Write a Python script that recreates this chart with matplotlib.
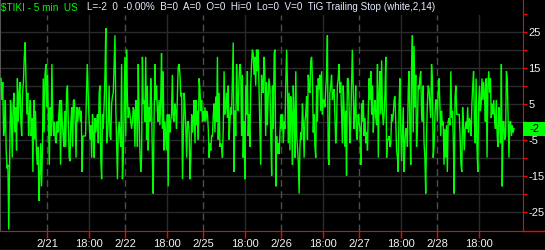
import numpy as np
import matplotlib.pyplot as plt
from matplotlib.lines import Line2D
from matplotlib.patches import Rectangle
from matplotlib.transforms import blended_transform_factory

plt.rcParams["font.family"] = ["Liberation Sans", "DejaVu Sans"]

# $TIKI 5 min closes, in six stretches of bars
tiki_a = [12, 6, 11, -4, -2, 6, -8, -13, -12, -30, -12, 6, 2, -10, 4, 8, -3, 4, -8, 12,
          0, 8, 11, 0, -4, 8, 11, 18, 22, 11, 2, 8, -4, 2, 6, -4, 1, -14, 6, -5,
          3, -8, -12, -7, -22, -15, -6, -18, -8, 12, -3, 13, 16, 4, 13, 0, -12, 4, -4, 16,
          1, -4, 0, -5, -6, 0, -3, 2, 6, -12, 6, 0, -4, -7, 3, -7, 8, 10, 0, -10,
          -11, 0, 4, -7, 6, 6, 0, -10, 4, 0, 3, 4, 0, 3, -14, -4, -4, -4, -4, 7, 16, 8, 1]
tiki_b = [-5, -1, -10, 2, -3, -10, 1, -3, 0, 2, -6, 8, 10, -11, -16, 2, -2, 5, 13, 26,
          -6, -4, 0, 10, -4, -5, 5, 7, 8, 16, 24, 4, -6, -16, -3, 0, -4, -7, 16, -16,
          -11, 4, 18, -4, 20, 6, 1, 4, 2, 0, -2, 0, 4, 3, -7, 6, 5, -7, 16, 2,
          -8, -14, -10, 18, 5, 6, 0, 18, -5, 10, -8, 4, 0, 12, 5, -10, -20, 0, 16, 6,
          10, 3, 0, 6, -1, 6, 19, -2, 14, -8, 0, -4, -8, 2, -18, 2, -3, 0, 2, 13,
          1, 0, 5, 3, -2, 6, 15, 16]
tiki_c = [13, 7, 8, -16, -4, 8, 4, -2, -10, 0, 0, -3, -16, -10, 2, -3, 0, 6, -6, 6,
          -1, 3, -5, 12, 9, 3, 6, 0, 3, 0, 4, 0, 3, 2, -2, -10, -6, -8, -4, -4,
          2, 5, -3, 7, 0, 18, -5, 8, -7, -6, -7, -10, -2, 14, 2, 4, 8, 1, 10, -5,
          0, 4, 2, 12, 22, -14, 3, -4, 16, 6, 3, 12, 16, 14, -4, 13, -10, 0, -16, 10,
          2, 14, -4, 2, -7, 10, 16, 20, 19, 13, 18, 10, 20, 14, 20, 9, -2, -12, 13, 10,
          8, 18, 14, -4, 11, -1, 7, 12]
tiki_d = [9, -5, -15, 10, -2, 19, 20, -18, -4, -9, -6, -9, -3, 2, -2, 2, -6, 0, -2, 11,
          20, 10, -6, 8, -8, 7, 2, -12, 10, 2, -10, 14, -4, -7, -11, -20, -7, -3, -5, 5,
          0, -10, 0, 2, 7, -5, 13, 9, 8, 17, 18, 12, -3, 2, -7, -10, 10, 0, 12, 9,
          13, 3, 14, 2, 6, 6, 4, 9, 13, 24, -10, -12, 8, 10, 13, 6, 8, 9, 2, -6,
          -1, 10, 12, 16, 8, 11, 3, -6, 10, 4, -7, 3, -15, 12, 12, 5, -6, -1, 9, 20,
          10, -2, 2, 10, -4, -5, 2, 0]
tiki_e = [-2, -12, 5, 0, 6, -4, 1, -6, -3, -8, 3, 12, 6, 14, 2, 10, -3, 3, 6, 1,
          -1, 16, -10, 8, 14, 2, 17, 3, -1, 2, 8, 18, -10, -5, -5, -4, -7, -6, 2, 0,
          2, 6, 7, 0, -8, -10, -14, 5, 12, -2, -11, -3, 4, -14, -6, -2, -2, -7, 9, 14,
          -2, -12, 15, 24, -3, 21, 4, 13, -7, -2, 10, 9, 12, 14, 2, 0, 10, -6, -10, -20,
          -4, 5, 10, 9, 5, 1, 16, 12, -10, -7, 1, 6, 6, 0, 8, 12, 5, -4, 3, -1,
          0, -12, -2, -10, -1, -14, 0, 1]
tiki_f = [-1, 14, 1, 3, -6, -20, 7, 10, 2, 2, 2, 2, -4, -12, -14, 4, -1, -8, -2, 0,
          -2, 4, -3, 1, 0, -4, 5, 10, 14, 0, -6, 12, -7, -14, 5, 10, 3, 5, 12, 6,
          11, 7, 0, 12, -10, 10, 14, 8, 12, 1, 5, 2, 6, 0, -2, 6, -4, -7, 4, 0,
          -6, 16, -18, 0, 0, -5, -4, 14, 12, 1, -10, 0, 0, -4, -1, -3, -2]

# bar range (first, last) covered by each stretch
stretch_bars = [(1, 89), (90, 179), (180, 269), (270, 359), (360, 449), (450, 514)]
stretches = [tiki_a, tiki_b, tiki_c, tiki_d, tiki_e, tiki_f]

day_labels = ["2/21", "2/22", "2/25", "2/26", "2/27", "2/28"]
evening_label = "18:00"
first_session_bar = 47
bars_per_session = 78
evening_offset = 42   # 18:00 is 42 five-minute bars after the 14:30 open

header_green = "$TIKI - 5 min  US"
header_rest = "L=-2  0  -0.00%  B=0  A=0  O=0  Hi=0  Lo=0  V=0  TiG Trailing Stop (white,2,14)"

GREEN = "#00ff00"
RED = "#ff0000"

W, H = 545, 250
fig = plt.figure(figsize=(W / 100, H / 100), dpi=100, facecolor="black")
ax = fig.add_axes([0, 19 / H, 523 / W, 231 / H])
ax.set_facecolor("black")
ax.set_xlim(0, 523)
ax.set_ylim(-30.4, 33.8)

xs, ys = [], []
for (b0, b1), vals in zip(stretch_bars, stretches):
    xs.extend(np.linspace(b0, b1, len(vals)))
    ys.extend(vals)
xs = np.array(xs)
ys = np.array(ys)

# grid, kept below the header strip
grid_top = (231 - 15) / 231
for y in range(-25, 30, 5):
    ax.axhline(y, color="#2a2a2a", lw=1, zorder=1)
day_pos = [first_session_bar + i * bars_per_session for i in range(len(day_labels))]
eve_pos = [d + evening_offset for d in day_pos]
for d in day_pos:
    ax.axvline(d, ymax=grid_top, color="#4d4d4d", lw=1, ls=(0, (5, 3)), zorder=1)
for e in eve_pos:
    ax.axvline(e, ymax=grid_top, color="#2a2a2a", lw=1, zorder=1)

ax.plot(xs, ys, color=GREEN, lw=1.0, zorder=3, solid_joinstyle="miter")

# axes styling
ax.spines["top"].set_visible(False)
ax.spines["left"].set_color("#555555")
ax.spines["right"].set_color(RED)
ax.spines["bottom"].set_color(RED)
ax.yaxis.tick_right()
yt = list(range(-25, 35, 5))
ax.set_yticks(yt)
ax.set_yticklabels([str(v) if v in (25, 15, 5, -5, -15, -25) else "" for v in yt])
ax.tick_params(axis="y", colors=RED, labelcolor="#f2f2f2", length=3, width=1,
               pad=1, labelsize=8)

ticks = sorted(day_pos + eve_pos)
labels = []
for t in ticks:
    labels.append(day_labels[day_pos.index(t)] if t in day_pos else evening_label)
ax.set_xticks(ticks)
ax.set_xticklabels(labels)
ax.tick_params(axis="x", colors=RED, labelcolor="#f2f2f2", length=5, width=1,
               pad=0.5, labelsize=8)

# red baseline continues under the price scale
fig.add_artist(Line2D([523 / W, 1], [19 / H + 0.5 / H] * 2, color=RED, lw=1,
                      transform=fig.transFigure))
fig.add_artist(Line2D([0, 1], [0.5 / H] * 2, color="#666666", lw=1,
                      transform=fig.transFigure))

# last value marker on the price scale
last = ys[-1]
trans = blended_transform_factory(ax.transAxes, ax.transData)
ax.add_patch(Rectangle((1.0, last - 1.95), W / 523 - 1.0, 3.9, transform=trans,
                       fc=GREEN, ec="none", clip_on=False, zorder=6))
ax.text(1.0 + (W / 523 - 1.0) / 2, last, f"{last:.0f}", transform=trans,
        ha="center", va="center", fontsize=8, color="black", zorder=7, clip_on=False)

# header
t1 = fig.text(1 / W, 1 - 7.5 / H, header_green, color=GREEN, fontsize=7.2,
              va="center", ha="left", parse_math=False, zorder=10)
fig.canvas.draw()
bb = t1.get_window_extent(fig.canvas.get_renderer())
fig.text((bb.x1 + 9) / W, 1 - 7.5 / H, header_rest, color="#e4ecff", fontsize=7.1,
         va="center", ha="left", parse_math=False, zorder=10)

fig.savefig("out.png", dpi=100, facecolor="black")
